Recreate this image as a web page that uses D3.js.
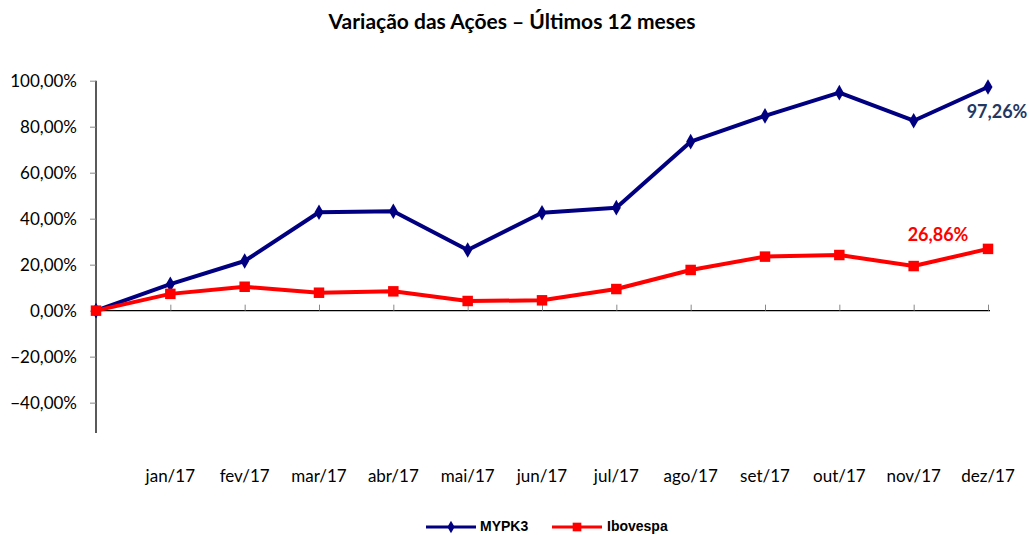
<!DOCTYPE html>
<html><head><meta charset="utf-8">
<script src="https://cdn.jsdelivr.net/npm/d3@7"></script>
<style>body{margin:0;background:#fff}svg{display:block}</style>
</head><body>
<svg id="c" width="1029" height="535"></svg>
<script>
const categories = ["", "jan/17","fev/17","mar/17","abr/17","mai/17","jun/17","jul/17","ago/17","set/17","out/17","nov/17","dez/17"];
const mypk3 = [0, 11.5, 21.6, 42.8, 43.2, 26.4, 42.6, 44.8, 73.5, 84.7, 94.8, 82.6, 97.26];
const ibovespa = [0, 7.3, 10.4, 7.8, 8.4, 4.2, 4.5, 9.4, 17.7, 23.5, 24.2, 19.4, 26.86];
const yTicks = [-40, -20, 0, 20, 40, 60, 80, 100];
const seriesNames = ["MYPK3", "Ibovespa"];
const title = "Variação das Ações – Últimos 12 meses";

const svg = d3.select("#c");
const fmt = v => d3.format(".2f")(v).replace(".", ",") + "%";
const FONT = "Lato, 'Open Sans', sans-serif";

const x = d3.scalePoint().domain(d3.range(categories.length)).range([96, 988]);
const y = d3.scaleLinear().domain([-53.2, 100]).range([433, 80.7]);

svg.append("text").attr("x", 512).attr("y", 29).attr("text-anchor", "middle")
  .attr("font-family", FONT).attr("font-weight", "bold").attr("font-size", 21)
  .text(title);

// y axis
const ya = svg.append("g").attr("transform", "translate(96,0)")
  .call(d3.axisLeft(y).tickValues(yTicks).tickSize(6).tickPadding(13).tickFormat(fmt));
ya.select(".domain").attr("stroke", "#000").attr("stroke-width", 1.3).attr("d", `M0,${y.range()[0]}V${y.range()[1]}`);
ya.selectAll(".tick line").attr("stroke", "#888");
ya.selectAll(".tick text").attr("font-family", FONT).attr("font-size", 17).attr("fill", "#000");

// x axis at zero
const xa = svg.append("g").attr("transform", `translate(0,${y(0)})`)
  .call(d3.axisBottom(x).tickSize(-6).tickFormat(""));
xa.select(".domain").attr("stroke", "#000").attr("stroke-width", 1.3).attr("d", `M96,0H990`);
xa.selectAll(".tick line").attr("stroke", "#888");
xa.selectAll(".tick").filter(d => d === 0).select("line").remove();

// category labels
svg.append("g").selectAll("text").data(categories).join("text")
  .attr("x", (d, i) => x(i)).attr("y", 482).attr("text-anchor", "middle")
  .attr("font-family", FONT).attr("font-size", 17).attr("fill", "#000").text(d => d);

const line = d3.line().x((d, i) => x(i)).y(d => y(d));
const series = [
  {name: seriesNames[0], values: mypk3, color: "#000080", marker: d3.symbolDiamond, msize: 70},
  {name: seriesNames[1], values: ibovespa, color: "#FF0000", marker: d3.symbolSquare, msize: 110}
];
series.forEach(s => {
  svg.append("path").attr("d", line(s.values)).attr("fill", "none")
    .attr("stroke", s.color).attr("stroke-width", 4).attr("stroke-linejoin", "round");
  svg.append("g").selectAll("path").data(s.values).join("path")
    .attr("transform", (d, i) => `translate(${x(i)},${y(d)})`)
    .attr("d", d3.symbol().type(s.marker).size(s.msize)).attr("fill", s.color);
});

// end labels
const last = categories.length - 1;
svg.append("text").attr("x", x(last) + 9).attr("y", y(mypk3[last]) + 31).attr("text-anchor", "middle")
  .attr("font-family", FONT).attr("font-weight", "bold").attr("font-size", 18).attr("fill", "#1F3864")
  .text(fmt(mypk3[last]));
svg.append("text").attr("x", x(last) - 50).attr("y", y(ibovespa[last]) - 8).attr("text-anchor", "middle")
  .attr("font-family", FONT).attr("font-weight", "bold").attr("font-size", 18).attr("fill", "#FF0000")
  .text(fmt(ibovespa[last]));

// legend
const leg = [{x0: 426, tx: 480}, {x0: 552, tx: 607}];
series.forEach((s, i) => {
  const g = svg.append("g");
  g.append("line").attr("x1", leg[i].x0).attr("x2", leg[i].x0 + 50).attr("y1", 527).attr("y2", 527)
    .attr("stroke", s.color).attr("stroke-width", 3);
  g.append("path").attr("transform", `translate(${leg[i].x0 + 25},527)`)
    .attr("d", d3.symbol().type(s.marker).size(i === 0 ? 45 : 75)).attr("fill", s.color);
  g.append("text").attr("x", leg[i].tx).attr("y", 531).attr("font-family", "Liberation Sans")
    .attr("font-weight", "bold").attr("font-size", 14).attr("fill", "#000").text(s.name);
});
</script>
</body></html>
